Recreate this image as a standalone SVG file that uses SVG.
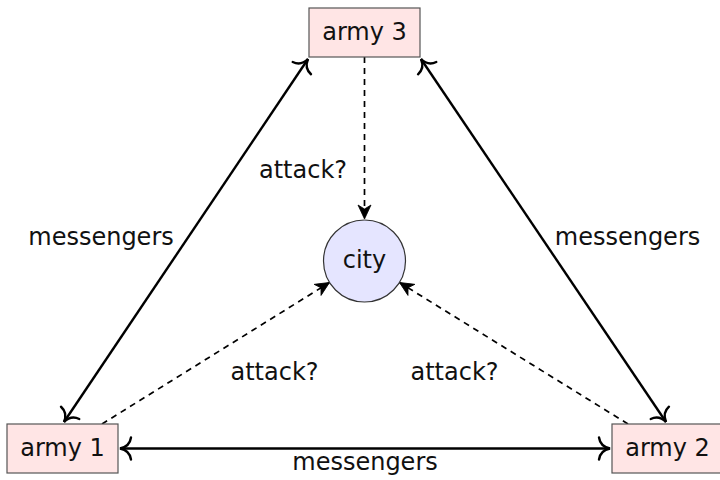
<svg xmlns="http://www.w3.org/2000/svg" width="720" height="480" viewBox="0 0 720 480">
<style>
  .box { fill: #ffe5e5; stroke: #555; stroke-width: 1.2; }
  .city { fill: #e5e5ff; stroke: #333; stroke-width: 1.2; }
  text { font-family: "DejaVu Sans", sans-serif; font-size: 24px; fill: #111; text-anchor: middle; }
  .solid { fill: none; stroke: #000; stroke-width: 2.4; }
  .dash { fill: none; stroke: #000; stroke-width: 1.7; stroke-dasharray: 6 5; }
</style>
<defs>
  <marker id="to" markerUnits="userSpaceOnUse" viewBox="-14 -14 16 28" markerWidth="16" markerHeight="28" refX="0" refY="0" orient="auto-start-reverse">
    <path d="M -11 -11 C -10 -4 -5 -1 0 0 C -5 1 -10 4 -11 11" fill="none" stroke="#000" stroke-width="2.4" stroke-linecap="round"/>
  </marker>
  <marker id="stealth" markerUnits="userSpaceOnUse" viewBox="-16 -9 17 18" markerWidth="17" markerHeight="18" refX="0" refY="0" orient="auto">
    <path d="M 0 0 L -14 -6.5 L -10 0 L -14 6.5 Z" fill="#000" stroke="#000" stroke-width="0.8" stroke-linejoin="miter"/>
  </marker>
</defs>
<g id="connectors">
  <line class="solid" x1="120" y1="448.5" x2="610" y2="448.5" marker-start="url(#to)" marker-end="url(#to)"/>
  <line class="solid" x1="64" y1="422" x2="308" y2="59" marker-start="url(#to)" marker-end="url(#to)"/>
  <line class="solid" x1="666" y1="422" x2="421" y2="59" marker-start="url(#to)" marker-end="url(#to)"/>
  <line class="dash" x1="364.5" y1="57" x2="364.5" y2="219" marker-end="url(#stealth)"/>
  <line class="dash" x1="102" y1="424" x2="329.5" y2="282.5" marker-end="url(#stealth)"/>
  <line class="dash" x1="628" y1="424" x2="399.5" y2="282.5" marker-end="url(#stealth)"/>
  <text x="365" y="470">messengers</text>
  <text x="101" y="245">messengers</text>
  <text x="627.5" y="245">messengers</text>
  <text x="303" y="178">attack?</text>
  <text x="274.5" y="380">attack?</text>
  <text x="454.5" y="380">attack?</text>
</g>
<g id="army3">
  <rect class="box" x="309" y="8" width="111" height="49"/>
  <text x="364.5" y="40">army 3</text>
</g>
<g id="army1">
  <rect class="box" x="7" y="424" width="111" height="49"/>
  <text x="62.5" y="456">army 1</text>
</g>
<g id="army2">
  <rect class="box" x="612" y="424" width="111" height="49"/>
  <text x="667.5" y="456">army 2</text>
</g>
<g id="city">
  <circle class="city" cx="364.5" cy="261" r="41"/>
  <text x="364.5" y="268">city</text>
</g>
</svg>
